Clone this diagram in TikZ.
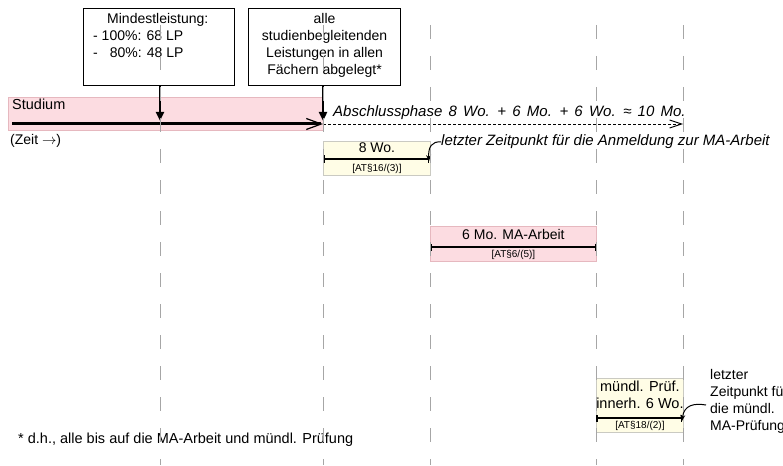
\documentclass[tikz,border=0pt]{standalone}
\usepackage{fontspec}
\setmainfont{Liberation Sans}
\usepackage{tikz}
\usetikzlibrary{arrows.meta,positioning,calc}
\definecolor{studpink}{HTML}{FCDCE1}
\definecolor{studpinkedge}{HTML}{E6B8BF}
\definecolor{cream}{HTML}{FFFDE6}
\definecolor{creamedge}{HTML}{CACAC2}
\definecolor{gridgray}{HTML}{A6A6A6}
\newcommand{\bigtxt}{\fontsize{14}{17}\selectfont}
\newcommand{\slanttxt}{\fontsize{15}{17}\selectfont\itshape}
\newcommand{\smalltxt}{\fontsize{10}{12}\selectfont}
\tikzset{
  notebox/.style={
    rectangle, draw=black, line width=1.2pt, fill=white,
    font=\bigtxt, align=center, inner sep=0pt, anchor=north west
  },
  spanbox/.style={
    rectangle, draw=#1edge, fill=#1, line width=0.8pt,
    inner sep=0pt, anchor=north west
  },
  spanbox/.default=cream,
  spantitle/.style={font=\bigtxt, inner sep=0pt, align=center},
  spanref/.style={font=\smalltxt, inner sep=0pt},
  spanline/.style={{Bar[width=7pt]}-{Bar[width=7pt]}, line width=1.5pt},
  gridline/.style={gridgray, line width=1pt, dash pattern=on 14pt off 17pt},
  timeline/.style={-{Straight Barb[length=15pt,width=11pt,line width=1.2pt]}, line width=3pt},
  restline/.style={-{Straight Barb[length=12pt,width=8pt,line width=0.9pt]}, line width=0.9pt,
    dash pattern=on 3pt off 2pt},
  dataarrow/.style={-{Triangle[length=9pt,width=8pt]}, line width=2.5pt},
  curvearrow/.style={-{Stealth[length=6pt,width=5pt]}, line width=1pt},
  labelnode/.style={font=\bigtxt, inner sep=0pt},
}

\begin{document}
\begin{tikzpicture}[x=1pt, y=-1pt]
  \path[use as bounding box, clip] (0,0) rectangle (783,465);

  % time points
  \coordinate (tA) at (160,121);
  \coordinate (tB) at (323,121);
  \coordinate (tC) at (430,124);
  \coordinate (tD) at (596,124);
  \coordinate (tE) at (683,124);

  % Studium bar
  \node[spanbox=studpink, minimum width=315, minimum height=33] (studium) at (8,97) {};
  \node[labelnode, anchor=north west, font=\fontsize{14.5}{17}\selectfont] (studlbl) at (12,99) {Studium};
  \node[labelnode, anchor=north west] (zeit) at (10,134) {(Zeit $\rightarrow$)};
  \coordinate (start) at (12,124);
  \coordinate (end) at (tB |- start);
  \draw[timeline] (start) -- (end);
  \draw[restline] (end) -- (tE |- start);
  \node[labelnode, anchor=west, font=\slanttxt] (absch) at (333,113)
    {\spaceskip=6.2pt\relax Abschlussphase 8 Wo. + 6 Mo. + 6 Wo. ≈ 10 Mo.};

  % Notes on top
  \node[notebox, minimum width=151, minimum height=77] (mind) at (83,8) {};
  \node[labelnode, align=left, anchor=north west] (mindtxt) at (93,13)
    {\hspace*{14pt}Mindestleistung:\\- 100\%: 68 LP\\-\hspace{12pt}80\%: 48 LP};
  \node[notebox, minimum width=152, minimum height=77] (alle) at (248,8) {};
  \node[labelnode, align=center, anchor=north] (alletxt) at ([yshift=-5pt]alle.north)
    {alle\\studienbegleitenden\\Leistungen in allen\\Fächern abgelegt*};
  \draw[dataarrow] (mind.south -| tA) -- (tA);
  \draw[dataarrow] (alle.south -| tB) -- (tB);

  % 8 Wo.
  \node[spanbox, minimum width=107, minimum height=34] (w8) at (323,141) {};
  \node[spantitle, below=2pt of w8.north] (w8t) {8 Wo.};
  \node[spanref, above=2pt of w8.south] (w8r) {[AT§16/(3)]};
  \coordinate (s8a) at (323,159);
  \coordinate (s8b) at (429,159);
  \draw[spanline] (s8a) -- (s8b);
  \node[labelnode, anchor=west, font=\slanttxt] (anm) at (441,142)
    {letzter Zeitpunkt für die Anmeldung zur MA-Arbeit};
  \draw[curvearrow] (anm.west) .. controls (432,141) and (428,147) .. ([yshift=-2pt]s8b);

  % 6 Mo. MA-Arbeit
  \node[spanbox=studpink, minimum width=166, minimum height=35] (ma) at (430,226) {};
  \node[spantitle, below=3pt of ma.north] (mat) {6 Mo. MA-Arbeit};
  \node[spanref, above=2pt of ma.south] (mar) {[AT§6/(5)]};
  \coordinate (s6a) at (430,247);
  \coordinate (s6b) at (596,247);
  \draw[spanline] (s6a) -- (s6b);

  % mündl. Prüfung
  \node[spanbox, minimum width=87, minimum height=54] (pr) at (596,378) {};
  \node[spantitle, below=3pt of pr.north, font=\fontsize{14.5}{17}\selectfont] (prt) {mündl. Prüf.\\innerh. 6 Wo.};
  \node[spanref, above=2pt of pr.south] (prr) {[AT§18/(2)]};
  \coordinate (s18a) at (596,418);
  \coordinate (s18b) at (682,418);
  \draw[spanline] (s18a) -- (s18b);
  \node[labelnode, align=left, anchor=north west] (prf) at (710,369)
    {letzter\\Zeitpunkt für\\die mündl.\\MA-Prüfung};
  \coordinate (prfstart) at (706,405);
  \draw[curvearrow] (prfstart) .. controls (694,403) and (684,405) .. ([yshift=-3pt]s18b);

  % footnote
  \node[labelnode, anchor=west, font=\fontsize{14.5}{17}\selectfont] (foot) at (18,440)
    {* d.h., alle bis auf die MA-Arbeit und mündl. Prüfung};

  % vertical time grid
  \foreach \t in {tA,tB,tC,tD,tE}
    \draw[gridline] (\t |- 0,25) -- (\t |- 0,465);
\end{tikzpicture}
\end{document}
